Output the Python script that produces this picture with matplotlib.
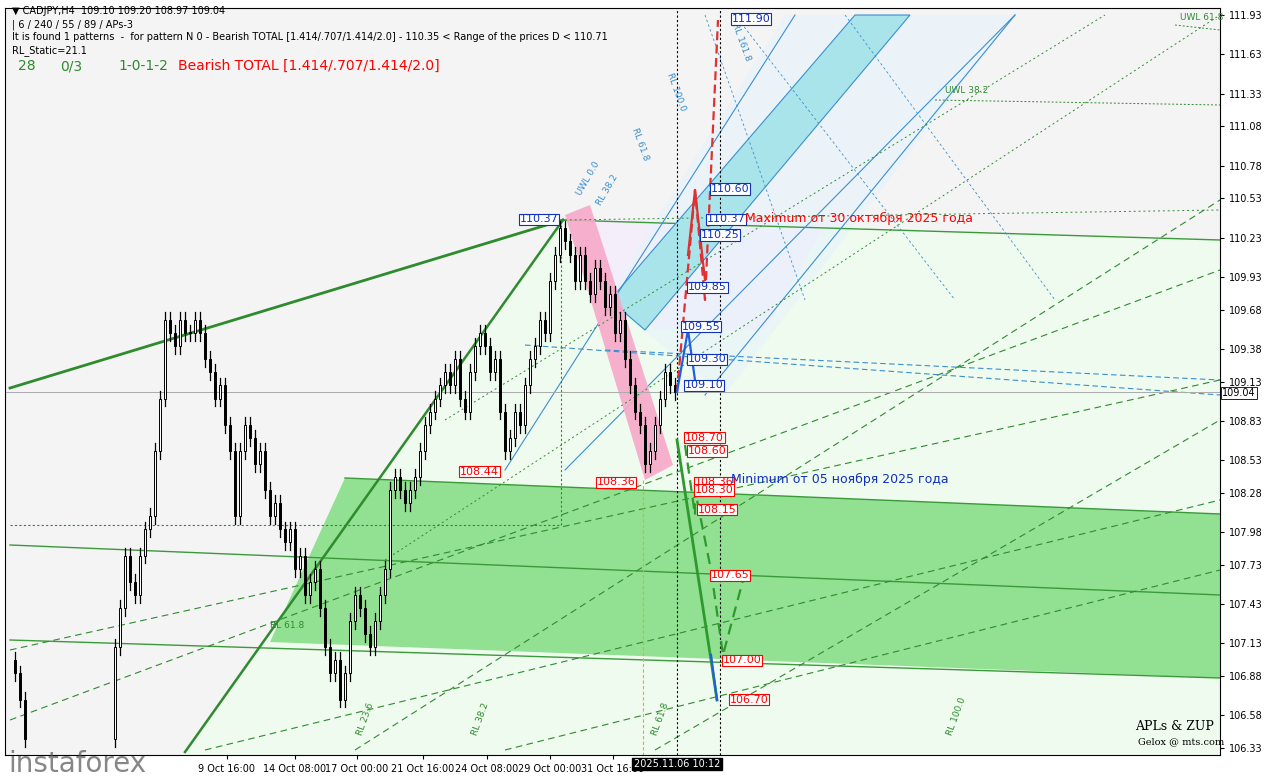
import matplotlib
matplotlib.use("Agg")
import matplotlib.pyplot as plt
import numpy as np
from matplotlib.patches import Polygon

# ---------------- data ----------------
yticks = [111.93,111.63,111.33,111.08,110.78,110.53,110.23,109.93,109.68,109.38,109.13,
          108.83,108.53,108.28,107.98,107.73,107.43,107.13,106.88,106.58,106.33]
xlabels = ["9 Oct 16:00","14 Oct 08:00","17 Oct 00:00","21 Oct 16:00","24 Oct 08:00",
           "29 Oct 00:00","31 Oct 16:00"]
xlabel_pos = [222,290,352,418,482,545,608]
candle_x = [10,15,20] + list(range(110,675,5))
closes = [106.9,106.7,106.4,
 107.1,107.4,107.8,107.6,107.5,107.8,108.0,108.1,108.6,109.0,109.6,109.5,109.4,109.6,109.5,109.5,
 109.6,109.5,109.3,109.2,109.0,109.1,108.8,108.6,108.1,108.6,108.8,108.7,108.5,108.6,108.3,108.1,
 108.2,108.0,107.9,108.0,107.7,107.8,107.5,107.6,107.7,107.4,107.1,106.9,107.0,106.7,106.9,107.3,
 107.5,107.4,107.2,107.1,107.3,107.5,107.7,108.3,108.4,108.3,108.2,108.3,108.4,108.6,108.8,108.9,
 109.0,109.1,109.2,109.1,109.3,109.0,108.9,109.2,109.4,109.5,109.4,109.2,109.3,108.9,108.6,108.7,
 108.9,108.8,109.1,109.3,109.4,109.6,109.5,109.9,110.1,110.3,110.2,110.1,109.9,110.1,109.9,109.8,
 110.0,109.9,109.7,109.8,109.5,109.6,109.3,109.1,108.9,108.8,108.5,108.6,108.8,109.0,109.2,109.1,109.05]
red_levels = [108.70,108.60,108.36,108.30,108.15,107.65,107.00,106.70]
red_lx = [680,683,690,690,693,706,718,725]
blue_levels = [111.90,110.60,110.37,110.25,109.85,109.55,109.30,109.10]
blue_lx = [727,706,702,696,683,677,683,680]

W, H = 1267, 780
def P(y):  # pixel row -> price
    return 111.93 - (y - 15) * (5.6 / 733)

fig = plt.figure(figsize=(12.67, 7.8), dpi=100)
fig.patch.set_facecolor("white")
ax = fig.add_axes([5/W, 25/H, 1215/W, 747/H])
ax.set_xlim(0, 1215)
ax.set_ylim(P(755), P(8))
ax.set_facecolor("#f4f4f4")

ax.add_patch(Polygon([(180,P(755)),(558,P(220)),(1215,P(240)),(1215,P(755))],
                     closed=True, fc="#effbef", ec="none", zorder=0))
ax.add_patch(Polygon([(340,P(478)),(1215,P(514)),(1215,P(678)),(265,P(642))],
                     closed=True, fc="#92e092", ec="none", zorder=1))
ax.plot([340,1215],[P(478),P(514)], color="#3a9a3a", lw=1, zorder=2)
ax.plot([5,1215],[P(545),P(595)], color="#3a9a3a", lw=1, zorder=2)
ax.plot([5,1215],[P(640),P(678)], color="#3a9a3a", lw=1, zorder=2)
ax.plot([558,1215],[P(220),P(240)], color="#3a9a3a", lw=1, zorder=2)
# lavender channel
ax.add_patch(Polygon([(560,P(220)),(700,P(220)),(820,P(225)),(760,P(330)),(650,P(330))],
                     fc="#f4eefa", ec="none", zorder=1))
# light blue channel & cyan band
ax.add_patch(Polygon([(600,P(300)),(780,P(15)),(1010,P(15)),(720,P(395))],
                     fc="#e8f3fc", ec="none", alpha=0.6, zorder=1))
ax.add_patch(Polygon([(605,P(300)),(850,P(15)),(905,P(15)),(640,P(330))],
                     fc="#a8e4ea", ec="#3a8fd0", lw=0.8, zorder=2))
for (x1,y1,x2,y2) in [(500,470,790,15),(560,470,1010,15),(700,395,1010,15)]:
    ax.plot([x1,x2],[P(y1),P(y2)], color="#3a8fd0", lw=0.8, zorder=2)
ax.add_patch(Polygon([(560,P(215)),(585,P(205)),(668,P(465)),(640,P(480))],
                     fc="#f7a8c8", ec="none", zorder=2, alpha=0.9))
ax.plot([5,558],[P(388),P(220)], color="#2e8b2e", lw=2, zorder=3)
ax.plot([180,558],[P(752),P(220)], color="#2e8b2e", lw=1.8, zorder=3)
for (x1,y1,x2,y2) in [(5,720,1215,270),(5,650,1215,380),(200,750,1215,500),(500,750,1215,570),
                      (650,750,1215,420),(350,750,1215,200)]:
    ax.plot([x1,x2],[P(y1),P(y2)], color="#2e8b2e", lw=0.8, ls=(0,(6,4)), zorder=2)
for (x1,y1,x2,y2) in [(560,220,1215,210),(440,420,1100,15),(380,560,1215,15)]:
    ax.plot([x1,x2],[P(y1),P(y2)], color="#2e8b2e", lw=0.7, ls=(0,(2,3)), zorder=2)
for (x1,y1,x2,y2) in [(520,345,1215,395),(600,350,1215,380)]:
    ax.plot([x1,x2],[P(y1),P(y2)], color="#3a8fd0", lw=0.8, ls=(0,(5,3)), zorder=2)
for (x1,y1,x2,y2) in [(700,15,800,300),(730,15,950,300),(840,15,1050,300)]:
    ax.plot([x1,x2],[P(y1),P(y2)], color="#3a8fd0", lw=0.6, ls=(0,(3,3)), zorder=2)
ax.plot([5,556],[P(525),P(525)], color="#2e8b2e", lw=0.8, ls=(0,(2,2)), zorder=2)
ax.plot([556,556],[P(525),P(220)], color="#2e8b2e", lw=0.8, ls=(0,(2,2)), zorder=2)
ax.plot([930,1215],[P(100),P(105)], color="#2e8b2e", lw=0.7, ls=(0,(2,2)))
ax.plot([1170,1215],[P(25),P(30)], color="#2e8b2e", lw=0.7, ls=(0,(2,2)))
ax.axhline(P(392), color="#aaaaaa", lw=0.7, zorder=2)
ax.axvline(672, color="black", lw=0.8, ls=(0,(2,2)), zorder=4)
ax.axvline(715, color="black", lw=0.8, ls=(0,(2,2)), zorder=4)
ax.plot([638,638],[P(480),P(755)], color="orange", lw=0.8, ls=(0,(3,2)))

cx = np.array(candle_x); cl = np.array(closes)
op = np.r_[cl[0]+0.1, cl[:-1]]
for x, o, c in zip(cx, op, cl):
    hi, lo = max(o,c)+0.06, min(o,c)-0.06
    ax.plot([x,x],[lo,hi], color="black", lw=0.9, zorder=5)
    ax.add_patch(plt.Rectangle((x-1.3, min(o,c)), 2.6, max(abs(c-o),0.01),
                               fc="black" if c<o else "white", ec="black", lw=0.7, zorder=6))

ax.plot([672,690,700,713],[P(392),P(190),P(300),P(20)], color="#e03030", lw=1.6, ls=(0,(4,2)), zorder=7)
ax.plot([683,690,700],[P(255),P(190),P(280)], color="#e03030", lw=1.6, zorder=7)
ax.plot([672,683,690],[P(392),P(330),P(380)], color="#2060e0", lw=1.6, zorder=7)
ax.plot([672,706,712],[P(440),P(660),P(700)], color="#2e9a2e", lw=2, zorder=7)
ax.plot([680,690,690,706,718,738],[P(445),P(515),P(490),P(570),P(655),P(580)],
        color="#2e9a2e", lw=1.6, ls=(0,(5,3)), zorder=7)
ax.plot([706,712],[P(655),P(700)], color="#2060e0", lw=1.6, zorder=7)

for v, x in zip(red_levels, red_lx):
    ax.text(x, v, f"{v:.2f}", color="red", fontsize=8, va="center", zorder=9,
            bbox=dict(fc="white", ec="red", pad=0.5, lw=0.8))
for v, x in zip(blue_levels, blue_lx):
    ax.text(x, v, f"{v:.2f}", color="#1030c0", fontsize=8, va="center", zorder=9,
            bbox=dict(fc="white", ec="#1030c0", pad=0.5, lw=0.8))
ax.text(515, 110.37, "110.37", color="#1030c0", fontsize=8, va="center", zorder=9,
        bbox=dict(fc="white", ec="#1030c0", pad=0.5, lw=0.8))
ax.text(455, 108.44, "108.44", color="red", fontsize=8, va="center", zorder=9,
        bbox=dict(fc="white", ec="red", pad=0.5, lw=0.8))
ax.text(592, 108.36, "108.36", color="red", fontsize=8, va="center", zorder=9,
        bbox=dict(fc="white", ec="red", pad=0.5, lw=0.8))
ax.text(740, P(218), "Maximum от 30 октября 2025 года", color="red", fontsize=9, va="center", zorder=9)
ax.text(726, P(479), "Minimum от 05 ноября 2025 года", color="#1030c0", fontsize=9, va="center", zorder=9)
ax.text(1130, P(730), "APLs & ZUP", fontsize=9, family="DejaVu Serif", zorder=9)
ax.text(1133, P(744), "Gelox @ mts.com", fontsize=7, family="DejaVu Serif", zorder=9)
for txt, x, y, col, rot in [("UWL 0.0",570,195,"#3a8fd0",60),("RL 38.2",590,205,"#3a8fd0",60),
                            ("RL 61.8",625,160,"#3a8fd0",-70),("RL 100.0",660,110,"#3a8fd0",-70),
                            ("RL 161.8",725,60,"#3a8fd0",-70),("UWL 38.2",940,93,"#2e8b2e",0),
                            ("UWL 61.8",1175,20,"#2e8b2e",0),("RL 61.8",265,628,"#2e8b2e",0),
                            ("RL 23.6",350,735,"#2e8b2e",70),("RL 38.2",465,735,"#2e8b2e",70),
                            ("RL 61.8",645,735,"#2e8b2e",70),("RL 100.0",940,735,"#2e8b2e",70)]:
    ax.text(x, P(y), txt, color=col, fontsize=6.5, rotation=rot, zorder=8)

fig.text(12/W, 1-14/H, "▼ CADJPY,H4  109.10 109.20 108.97 109.04", fontsize=7)
fig.text(12/W, 1-27/H, "| 6 / 240 / 55 / 89 / APs-3", fontsize=7)
fig.text(12/W, 1-40/H, "It is found 1 patterns  -  for pattern N 0 - Bearish TOTAL [1.414/.707/1.414/2.0] - 110.35 < Range of the prices D < 110.71", fontsize=7)
fig.text(12/W, 1-53/H, "RL_Static=21.1", fontsize=7)
fig.text(18/W, 1-70/H, "28", fontsize=10, color="#2e8b2e")
fig.text(60/W, 1-70/H, "0/3", fontsize=10, color="#2e8b2e")
fig.text(118/W, 1-70/H, "1-0-1-2", fontsize=10, color="#2e8b2e")
fig.text(178/W, 1-70/H, "Bearish TOTAL [1.414/.707/1.414/2.0]", fontsize=10, color="red")

ax.yaxis.tick_right()
ax.set_yticks(yticks)
ax.set_yticklabels([f"{v:.2f}" for v in yticks], fontsize=7)
ax.set_xticks(xlabel_pos)
ax.set_xticklabels(xlabels, fontsize=7)
ax.tick_params(length=3)
ax.text(1.002, 109.04, "109.04", transform=ax.get_yaxis_transform(), fontsize=7, va="center",
        bbox=dict(fc="white", ec="black", pad=0.8, lw=0.6))
ax.text(672, P(764), "2025.11.06 10:12", fontsize=7, ha="center", va="center", color="white",
        bbox=dict(fc="black", ec="black", pad=1), clip_on=False)
fig.text(8/W, 8/H, "instaforex", fontsize=20, color="#555555", alpha=0.7)
fig.savefig("out.png", dpi=100)
